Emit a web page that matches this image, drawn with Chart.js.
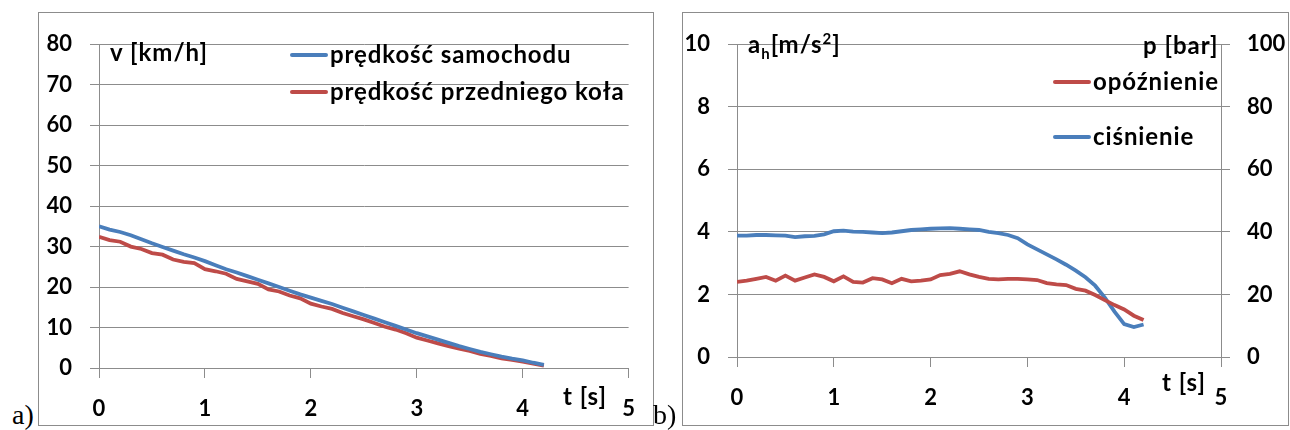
<!DOCTYPE html>
<html>
<head>
<meta charset="utf-8">
<script src="https://cdn.jsdelivr.net/npm/chart.js@4.4.1/dist/chart.umd.min.js"></script>
<style>
  html, body { margin: 0; padding: 0; background: #fff; }
  body { position: relative; width: 1290px; height: 430px; overflow: hidden; font-family: Lato, "Open Sans", sans-serif; }
  .frame { position: absolute; border: 1px solid #8c8c8c; }
  .frame canvas { position: absolute; left: 0; top: 0; }
  .lbl { position: absolute; font-weight: bold; font-size: 24px; letter-spacing: 1px; color: #000; white-space: nowrap; line-height: 1; }
  .tag { position: absolute; font-family: "Liberation Serif", "Times New Roman", serif; font-size: 28px; line-height: 1; }
  sub, sup { font-size: 15px; line-height: 0; }
</style>
</head>
<body>
  <div class="frame" id="frameA" style="left:38px; top:12px; width:614px; height:412px;">
    <canvas id="chartA" width="614" height="412"></canvas>
  </div>
  <div class="frame" id="frameB" style="left:682px; top:12px; width:605px; height:412px;">
    <canvas id="chartB" width="605" height="412"></canvas>
  </div>

  <span class="lbl" style="left:110px; top:40px;">v [km/h]</span>
  <span class="lbl" style="left:563px; top:384px;">t [s]</span>
  <span class="lbl" style="left:748px; top:32px;">a<sub>h</sub>[m/s<sup>2</sup>]</span>
  <span class="lbl" style="left:1143px; top:33px;">p [bar]</span>
  <span class="lbl" style="left:1162px; top:370px;">t [s]</span>
  <span class="tag" style="left:12px; top:401px;">a)</span>
  <span class="tag" style="left:653px; top:401px;">b)</span>

<script>
// time base shared by both charts [s]
const time = [0, 0.1, 0.2, 0.3, 0.4, 0.5, 0.6, 0.7, 0.8, 0.9,
  1.0, 1.1, 1.2, 1.3, 1.4, 1.5, 1.6, 1.7, 1.8, 1.9,
  2.0, 2.1, 2.2, 2.3, 2.4, 2.5, 2.6, 2.7, 2.8, 2.9,
  3.0, 3.1, 3.2, 3.3, 3.4, 3.5, 3.6, 3.7, 3.8, 3.9,
  4.0, 4.1, 4.2];

// a) vehicle speed and front wheel speed [km/h]
const carSpeed = [35.0, 34.2, 33.6, 32.8, 31.8, 30.8, 29.9, 29.0, 28.1, 27.3,
  26.4, 25.4, 24.4, 23.6, 22.7, 21.8, 20.9, 20.0, 19.1, 18.2,
  17.4, 16.6, 15.8, 14.9, 14.0, 13.1, 12.2, 11.3, 10.4, 9.5,
  8.6, 7.8, 7.0, 6.2, 5.4, 4.7, 4.0, 3.4, 2.8, 2.3,
  1.9, 1.3, 0.8];
const wheelSpeed = [32.4, 31.6, 31.2, 30.0, 29.4, 28.4, 28.0, 26.8, 26.2, 25.9,
  24.4, 23.9, 23.3, 22.0, 21.4, 20.8, 19.4, 18.9, 17.9, 17.2,
  15.9, 15.2, 14.6, 13.6, 12.8, 12.0, 11.1, 10.2, 9.5, 8.6,
  7.5, 6.8, 6.1, 5.4, 4.8, 4.2, 3.5, 3.0, 2.4, 2.0,
  1.6, 1.1, 0.6];

// b) deceleration [m/s2] and brake pressure [bar]
const decel = [2.40, 2.44, 2.50, 2.56, 2.44, 2.60, 2.44, 2.54, 2.64, 2.56,
  2.42, 2.58, 2.40, 2.38, 2.52, 2.48, 2.36, 2.50, 2.42, 2.44,
  2.48, 2.62, 2.66, 2.74, 2.64, 2.56, 2.50, 2.48, 2.50, 2.50,
  2.48, 2.46, 2.36, 2.32, 2.30, 2.18, 2.12, 1.98, 1.82, 1.66,
  1.52, 1.32, 1.18];
const pressure = [38.8, 38.8, 39.0, 39.0, 38.9, 38.8, 38.3, 38.6, 38.7, 39.2,
  40.2, 40.4, 40.1, 40.0, 39.8, 39.6, 39.8, 40.2, 40.6, 40.8,
  41.0, 41.1, 41.2, 41.0, 40.8, 40.6, 40.0, 39.6, 39.0, 38.0,
  36.0, 34.4, 32.8, 31.2, 29.5, 27.6, 25.5, 22.8, 19.0, 14.5,
  10.5, 9.6, 10.4];

const BLUE = '#4a7ebb';
const RED = '#be4b48';
const GRID = '#8c8c8c';
const tickFont = { family: 'Lato', size: 22, weight: 'bold' };

const pts = (ys) => ys.map((y, i) => ({ x: time[i], y }));

// legend drawn inside the plot, one line per dataset
const inlineLegend = {
  id: 'inlineLegend',
  afterDraw(chart, args, opts) {
    const ctx = chart.ctx;
    ctx.save();
    ctx.font = 'bold 24px Lato';
    ctx.letterSpacing = '0.9px';
    ctx.textBaseline = 'middle';
    ctx.lineWidth = 4;
    ctx.lineCap = 'round';
    opts.items.forEach((it) => {
      const ds = chart.data.datasets[it.index];
      ctx.strokeStyle = ds.borderColor;
      ctx.beginPath();
      ctx.moveTo(it.x, it.y);
      ctx.lineTo(it.x + 34, it.y);
      ctx.stroke();
      ctx.fillStyle = '#000';
      ctx.fillText(ds.label, it.x + 38, it.y);
    });
    ctx.restore();
  }
};

const fixSize = (prop, v) => (scale) => { scale[prop] = v; };

const xAxis = (h) => ({
  type: 'linear', min: 0, max: 5,
  afterFit: fixSize('height', h),
  border: { display: true, color: GRID },
  grid: { drawOnChartArea: false, color: GRID, tickLength: 10 },
  ticks: { stepSize: 1, color: '#000', font: tickFont, padding: 18 }
});

new Chart(document.getElementById('chartA'), {
  type: 'line',
  data: {
    datasets: [
      { label: 'prędkość samochodu', data: pts(carSpeed), borderColor: BLUE, borderWidth: 3.8, pointRadius: 0 },
      { label: 'prędkość przedniego koła', data: pts(wheelSpeed), borderColor: RED, borderWidth: 3.8, pointRadius: 0 }
    ]
  },
  options: {
    responsive: false,
    animation: false,
    layout: { padding: { top: 19, right: 21, left: 0, bottom: 0 } },
    plugins: {
      legend: { display: false },
      tooltip: { enabled: false },
      inlineLegend: { items: [{ index: 0, x: 253, y: 42 }, { index: 1, x: 253, y: 79 }] }
    },
    scales: {
      x: xAxis(57),
      y: {
        min: 0, max: 80,
        afterFit: fixSize('width', 60),
        border: { display: true, color: GRID },
        grid: { color: GRID, tickLength: 9 },
        ticks: { stepSize: 10, color: '#000', font: tickFont, padding: 18 }
      }
    }
  },
  plugins: [inlineLegend]
});

new Chart(document.getElementById('chartB'), {
  type: 'line',
  data: {
    datasets: [
      { label: 'opóźnienie', data: pts(decel), borderColor: RED, borderWidth: 3.8, pointRadius: 0, yAxisID: 'y' },
      { label: 'ciśnienie', data: pts(pressure), borderColor: BLUE, borderWidth: 3.8, pointRadius: 0, yAxisID: 'y2' }
    ]
  },
  options: {
    responsive: false,
    animation: false,
    layout: { padding: { top: 27, right: 0, left: 0, bottom: 0 } },
    plugins: {
      legend: { display: false },
      tooltip: { enabled: false },
      inlineLegend: { items: [{ index: 0, x: 372, y: 69 }, { index: 1, x: 372, y: 124 }] }
    },
    scales: {
      x: xAxis(68),
      y: {
        position: 'left',
        min: 0, max: 10,
        afterFit: fixSize('width', 54),
        border: { display: true, color: GRID },
        grid: { color: GRID, tickLength: 9 },
        ticks: { stepSize: 2, color: '#000', font: tickFont, padding: 18 }
      },
      y2: {
        position: 'right',
        min: 0, max: 100,
        afterFit: fixSize('width', 67),
        border: { display: true, color: GRID },
        grid: { drawOnChartArea: false, color: GRID, tickLength: 9 },
        ticks: { stepSize: 20, color: '#000', font: tickFont, padding: 17 }
      }
    }
  },
  plugins: [inlineLegend]
});
</script>
</body>
</html>
